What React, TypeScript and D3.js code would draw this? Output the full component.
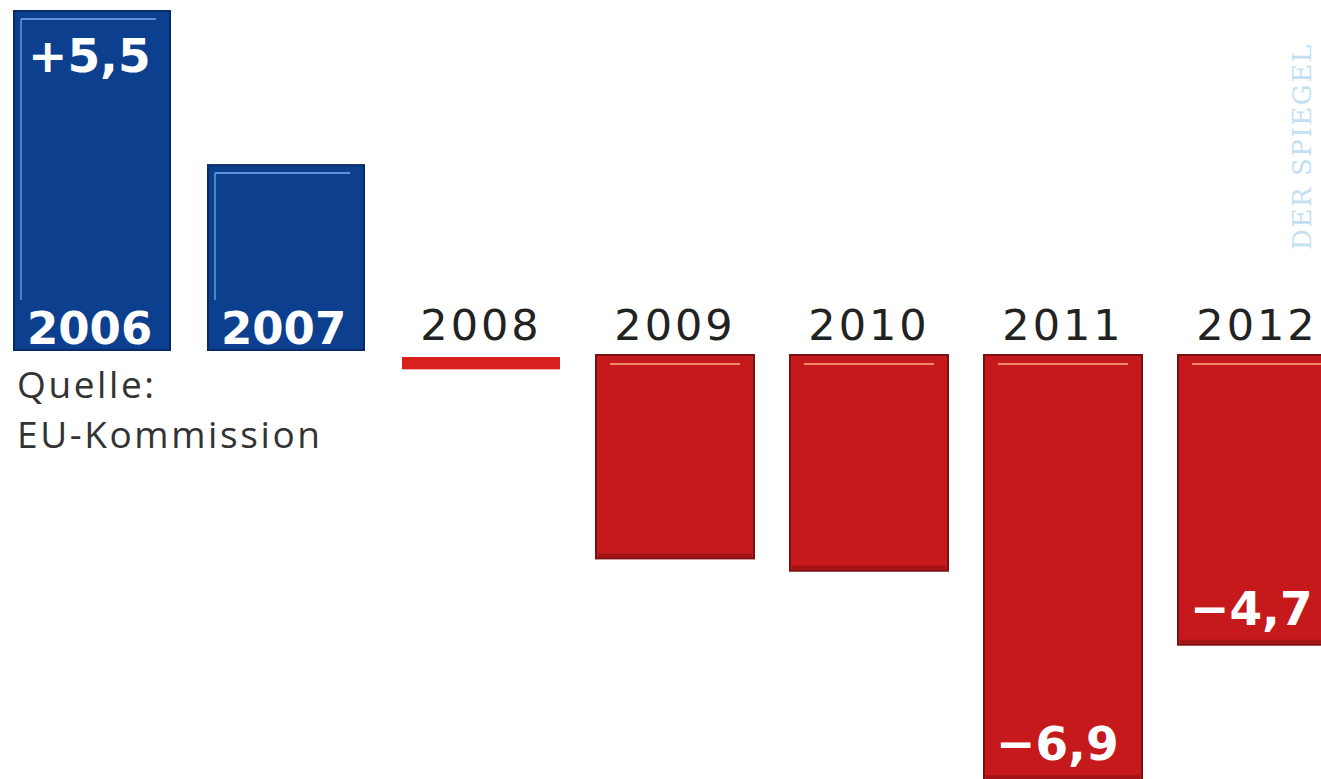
import React from "react";
import * as d3 from "d3";

const years = ["2006", "2007", "2008", "2009", "2010", "2011", "2012"];
const values = [5.5, 3.0, -0.2, -3.3, -3.5, -6.9, -4.7];
const valueLabels = ["+5,5", "", "", "", "", "\u22126,9", "\u22124,7"];
const sourceLines = ["Quelle:", "EU-Kommission"];
const credit = "DER SPIEGEL";

const W = 1321;
const H = 779;

const BLUE = "#0c3f8e";
const BLUE_DARK = "#082c66";
const BLUE_LIGHT = "#5e93d6";
const RED = "#c5191c";
const RED_DARK = "#7c1010";
const RED_LIGHT = "#ee8a66";

export default function App() {
  const x = d3
    .scaleBand<string>()
    .domain(years)
    .range([14, 14 + 194 * 7 - 36])
    .paddingInner(36 / 194)
    .paddingOuter(0);
  const bw = x.bandwidth();
  const pos0 = 350;
  const neg0 = 355;
  const y = d3.scaleLinear().domain([0, 5.5]).range([pos0, 11]);
  const h = (v: number) => Math.abs(y(0) - y(Math.abs(v)));

  return (
    <svg
      width={W}
      height={H}
      style={{ position: "absolute", left: 0, top: 0, background: "#fff" }}
    >
      <rect x={0} y={0} width={W} height={H} fill="#fff" />
      {years.map((yr, i) => {
        const v = values[i];
        const bx = x(yr) as number;
        const bh = h(v);
        if (v >= 0) {
          const top = y(v);
          return (
            <g key={yr}>
              <rect x={bx} y={top} width={bw - 2} height={bh} fill={BLUE} stroke={BLUE_DARK} strokeWidth={2} />
              <line x1={bx + 7} x2={bx + bw - 16} y1={top + 8} y2={top + 8} stroke={BLUE_LIGHT} strokeWidth={2} />
              <line x1={bx + 7} x2={bx + 7} y1={top + 8} y2={top + bh - 50} stroke={BLUE_LIGHT} strokeWidth={2} opacity={0.8} />
              {valueLabels[i] && (
                <text
                  x={bx + 14}
                  y={top + 61}
                  fill="#fff"
                  fontFamily="DejaVu Sans"
                  fontWeight="bold"
                  fontSize={47}
                >
                  {valueLabels[i]}
                </text>
              )}
              <text
                x={bx + 13}
                y={pos0 - 6}
                fill="#fff"
                fontFamily="DejaVu Sans"
                fontWeight="bold"
                fontSize={45}
              >
                {yr}
              </text>
            </g>
          );
        }
        const top = neg0;
        const thin = bh < 20;
        return (
          <g key={yr}>
            <text
              x={bx + bw / 2}
              y={340}
              textAnchor="middle"
              fill="#222"
              fontFamily="DejaVu Sans"
              fontSize={43}
              letterSpacing={3}
            >
              {yr}
            </text>
            {thin ? (
              <rect x={bx} y={top + 2} width={bw} height={bh} fill="#d8201e" />
            ) : (
              <>
                <rect x={bx} y={top} width={bw} height={bh} fill={RED} stroke={RED_DARK} strokeWidth={2} />
                <line x1={bx + 14} x2={bx + bw - 14} y1={top + 9} y2={top + 9} stroke={RED_LIGHT} strokeWidth={2} />
                <line x1={bx + 2} x2={bx + bw - 2} y1={top + bh - 3} y2={top + bh - 3} stroke="#a31214" strokeWidth={4} />
              </>
            )}
            {valueLabels[i] && (
              <text
                x={bx + 12}
                y={top + bh - 20}
                fill="#fff"
                fontFamily="DejaVu Sans"
                fontWeight="bold"
                fontSize={47}
              >
                {valueLabels[i]}
              </text>
            )}
          </g>
        );
      })}
      {sourceLines.map((t, i) => (
        <text
          key={t}
          x={17}
          y={398 + i * 50}
          fill="#333"
          fontFamily="Open Sans"
          fontSize={37}
          letterSpacing={2.6}
        >
          {t}
        </text>
      ))}
      <text
        transform="translate(1311,250) rotate(-90)"
        fill="#c3e0f2"
        fontFamily="DejaVu Serif"
        fontSize={26}
        textLength={205}
        lengthAdjust="spacing"
      >
        {credit}
      </text>
    </svg>
  );
}
